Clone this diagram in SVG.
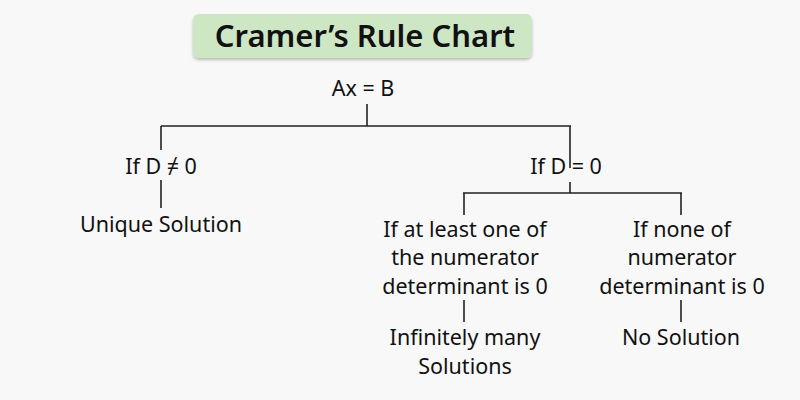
<svg xmlns="http://www.w3.org/2000/svg" width="800" height="400" viewBox="0 0 800 400">
<style>
text{font-family:"Noto Sans","Open Sans",sans-serif;font-size:21.5px;fill:#111;text-anchor:middle}
.c line{stroke:#222;stroke-width:1.6}
</style>
<defs><filter id="sh" x="-10%" y="-20%" width="120%" height="150%"><feDropShadow dx="0" dy="2" stdDeviation="1.5" flood-color="#000" flood-opacity="0.25"/></filter></defs>
<rect width="800" height="400" fill="#f8f8f8"/>
<g id="title"><rect x="193" y="14" width="339" height="44" rx="6" fill="#cde6c4" filter="url(#sh)"/>
<text x="365" y="47" style="font-size:31px;font-weight:600">Cramer’s Rule Chart</text></g>
<g class="c">
<line x1="367" y1="104" x2="367" y2="126"/>
<line x1="161" y1="126" x2="571" y2="126"/>
<line x1="161" y1="126" x2="161" y2="150"/>
<line x1="570" y1="126" x2="570" y2="168"/>
<line x1="161" y1="180" x2="161" y2="208"/>
<line x1="570" y1="182" x2="570" y2="193"/>
<line x1="463" y1="193" x2="682" y2="193"/>
<line x1="464" y1="193" x2="464" y2="215"/>
<line x1="681" y1="193" x2="681" y2="215"/>
<line x1="464" y1="300" x2="464" y2="322"/>
<line x1="681" y1="300" x2="681" y2="322"/>
</g>
<g id="root"><text x="363" y="96">Ax = B</text></g>
<g id="dne"><text x="161" y="174">If D ≠ 0</text></g>
<g id="unique"><text x="161" y="232">Unique Solution</text></g>
<g id="deq"><text x="566" y="174">If D = 0</text></g>
<g id="atleast"><text x="465" y="237">If at least one of</text><text x="465" y="265">the numerator</text><text x="465" y="294">determinant is 0</text></g>
<g id="none"><text x="682" y="237">If none of</text><text x="682" y="265">numerator</text><text x="682" y="294">determinant is 0</text></g>
<g id="inf"><text x="465" y="345">Infinitely many</text><text x="465" y="374">Solutions</text></g>
<g id="nosol"><text x="681" y="345">No Solution</text></g>
</svg>
